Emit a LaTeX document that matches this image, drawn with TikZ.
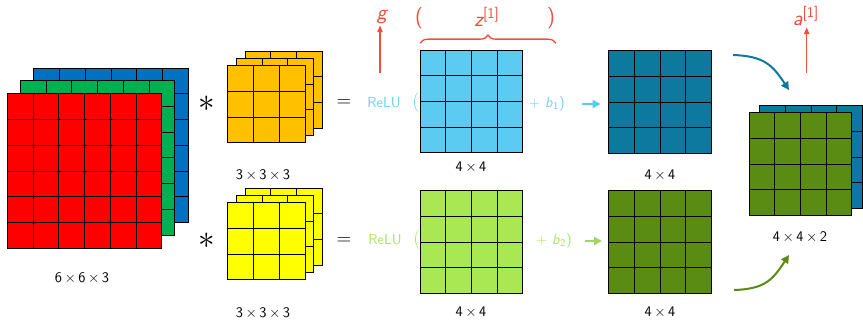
\documentclass[tikz,border=0pt]{standalone}
\usepackage{amsmath}
\usetikzlibrary{arrows.meta,calc,decorations.pathreplacing}

\definecolor{inred}{HTML}{FF0000}
\definecolor{ingreen}{HTML}{00B050}
\definecolor{inblue}{HTML}{0070C0}
\definecolor{forange}{HTML}{FFC000}
\definecolor{fyellow}{HTML}{FFFF00}
\definecolor{zblue}{HTML}{5CCBF2}
\definecolor{zgreen}{HTML}{A9E852}
\definecolor{ablue}{HTML}{0E799F}
\definecolor{agreen}{HTML}{5A8B13}
\definecolor{gred}{HTML}{F04E3A}
\definecolor{relub}{HTML}{6DCFF5}
\definecolor{relug}{HTML}{A6E65C}

\begin{document}
\begin{tikzpicture}[
  x=0.75pt, y=-0.75pt,
  font=\sffamily\fontsize{11}{13}\selectfont,
  >={Stealth[length=2.4mm]},
  cells/.style={draw=black, line width=0.6pt, inner sep=0pt, outer sep=0pt,
    path picture={
      \foreach \k in {1,...,#1}{
        \draw[line width=0.6pt]
          ($(path picture bounding box.south west)!\k/#1!(path picture bounding box.south east)$) --
          ($(path picture bounding box.north west)!\k/#1!(path picture bounding box.north east)$);
        \draw[line width=0.6pt]
          ($(path picture bounding box.south west)!\k/#1!(path picture bounding box.north west)$) --
          ($(path picture bounding box.south east)!\k/#1!(path picture bounding box.north east)$);
      }}},
  big/.style ={cells=6, minimum size=116pt},
  filt/.style={cells=3, minimum size=58pt},
  fmap/.style={cells=4, minimum size=77pt},
  op/.style  ={inner sep=1pt, font=\fontsize{15}{15}\selectfont},
  star/.style={inner sep=0pt, font=\fontsize{30}{30}\selectfont},
  red/.style ={text=gred, inner sep=1pt, font=\sffamily\itshape\fontsize{16}{18}\selectfont},
  flow/.style={->, line width=1.5pt, >={Triangle[length=6pt, width=6pt]}},
  up/.style  ={->, gred, line width=1pt, >={Triangle[length=5pt, width=4pt]}},
]
\useasboundingbox (0,0) rectangle (863,321);

%% ---------------- input volume ----------------
\node[big, fill=inblue]  (inB) at (111,145.3) {};
\node[big, fill=ingreen] (inG) at (97.5,157.8) {};
\node[big, fill=inred]   (inR) at (84.5,171) {};
\node (inlbl) at (82,278) {6\,$\times$\,6\,$\times$\,3};

%% ---------------- filters ----------------
\foreach \d in {2,1,0}{
  \node[filt, fill=forange] (fa\d) at ($(266.3,104.2)+(\d*8.7,-\d*7.3)$) {};
}
\node (falbl) at (263,175) {3\,$\times$\,3\,$\times$\,3};
\foreach \d in {2,1,0}{
  \node[filt, fill=fyellow] (fb\d) at ($(266.3,241.2)+(\d*8.7,-\d*7.3)$) {};
}
\node (fblbl) at (263,313) {3\,$\times$\,3\,$\times$\,3};

\node[star] (st1) at (207,104) {$\ast$};
\node[star] (st2) at (207,241) {$\ast$};
\node[op] (eq1) at (344,103) {$=$};
\node[op] (eq2) at (344,241) {$=$};

%% ---------------- linear part ----------------
\node[text=relub] (relu1) at (384,103) {ReLU};
\node[text=relub, op] (op1) at (416,103) {(};
\node[text=relug] (relu2) at (385,240) {ReLU};
\node[text=relug, op] (op2) at (417,240) {(};

\node[fmap, fill=zblue]  (z1) at (471.5,101.5) {};
\node (z1lbl) at (471,167) {4\,$\times$\,4};
\node[fmap, fill=zgreen] (z2) at (471.5,242) {};
\node (z2lbl) at (471,312) {4\,$\times$\,4};

\node[text=relub] (b1) at (547,104) {+ \textit{b}\textsubscript{1})};
\node[text=relug] (b2) at (554,241) {+ \textit{b}\textsubscript{2})};

%% ---------------- activations ----------------
\node[fmap, fill=ablue]  (a1) at (660,102) {};
\node (a1lbl) at (660,175) {4\,$\times$\,4};
\node[fmap, fill=agreen] (a2) at (660,242) {};
\node (a2lbl) at (660,312) {4\,$\times$\,4};

\draw[flow, zblue, shorten <=9pt, shorten >=6pt] (b1.east) -- (b1.east -| a1.west);
\draw[flow, zgreen!90!black!90, shorten <=6pt, shorten >=5pt] (b2.east) -- (b2.east -| a2.west);

%% ---------------- stacked output ----------------
\node[fmap, fill=ablue]  (resB) at (811,157.2) {};
\node[fmap, fill=agreen] (resG) at (800.5,164.2) {};
\node (reslbl) at (800,237) {4\,$\times$\,4\,$\times$\,2};

\coordinate (c1s) at (733,55);
\coordinate (c1e) at (789,90);
\coordinate (c2s) at (734,290);
\coordinate (c2e) at (789,255);
\draw[flow, ablue]  (c1s) .. controls +(32,1) and +(-16,-24) .. (c1e);
\draw[flow, agreen] (c2s) .. controls +(32,-1) and +(-16,24) .. (c2e);

%% ---------------- notation ----------------
\node[red] (g)  at (382,17) {g};
\node[red, font=\sffamily\fontsize{16}{18}\selectfont] (lp) at (419,18) {(};
\node[red] (z)  at (487,17) {z\textsuperscript{\upshape[1]}};
\node[red, font=\sffamily\fontsize{16}{18}\selectfont] (rp) at (551,18) {)};
\node[red] (a)  at (806,16) {a\textsuperscript{\upshape[1]}};

\coordinate (gfoot) at (380,73);
\coordinate (afoot) at (806.7,73);
\draw[up] (gfoot) -- (gfoot |- g.south);
\draw[up] (afoot) -- (afoot |- a.south);

\coordinate (brL) at ($(z1.north west)+(0,-7)$);
\coordinate (brR) at ($(z1.north east)+(33,-7)$);
\draw[gred, line width=1pt, decorate, decoration={brace, amplitude=6pt}] (brL) -- (brR);

\end{tikzpicture}
\end{document}
